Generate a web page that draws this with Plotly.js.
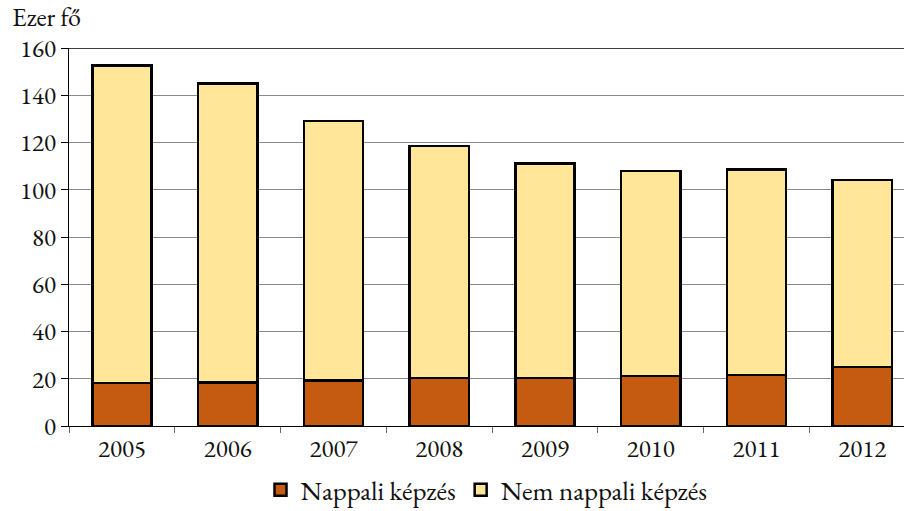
<!DOCTYPE html>
<html>
<head>
<meta charset="utf-8">
<script src="https://cdn.plot.ly/plotly-3.0.1.min.js"></script>
<style>html,body{margin:0;padding:0;background:#fff;}#chart{width:904px;height:511px;}</style>
</head>
<body>
<div id="chart"></div>
<script>
const years = ["2005","2006","2007","2008","2009","2010","2011","2012"];
const nappali = [18.1, 18.5, 19.3, 20.3, 20.4, 21.2, 21.6, 25.0];
const nemNappali = [134.6, 126.5, 109.9, 98.2, 90.8, 86.7, 87.0, 79.1];
const seriesNames = ["Nappali képzés", "Nem nappali képzés"];
const yTicks = [0, 20, 40, 60, 80, 100, 120, 140, 160];
const unitLabel = "Ezer fő";

const FONT = "'EB Garamond', Garamond, 'Liberation Serif', 'DejaVu Serif', serif";

const traces = [
  {type: "bar", x: years, y: nappali, name: seriesNames[0],
   marker: {color: "#C55A11", line: {color: "#000", width: 2.5}}},
  {type: "bar", x: years, y: nemNappali, name: seriesNames[1],
   marker: {color: "#FFE699", line: {color: "#000", width: 2.5}}}
];

const layout = {
  width: 904, height: 511,
  margin: {l: 69, r: 0, t: 48, b: 85, autoexpand: false},
  paper_bgcolor: "#fff", plot_bgcolor: "#fff",
  barmode: "stack", bargap: 0.44,
  font: {family: FONT, size: 25, color: "#111"},
  xaxis: {
    type: "category", range: [-0.5, 7.395], automargin: false,
    showline: true, linecolor: "#000", linewidth: 1,
    ticks: "outside", tickson: "boundaries", ticklen: 6, tickcolor: "#666", tickwidth: 1,
    showgrid: false, zeroline: false,
    tickfont: {family: FONT, size: 25, color: "#111"}
  },
  yaxis: {
    range: [0, 160], tickvals: yTicks, ticktext: yTicks.map(String), automargin: false,
    showline: true, linecolor: "#000", linewidth: 1,
    ticks: "outside", ticklen: 7, tickcolor: "#000",
    showgrid: true, gridcolor: "#8a8a8a", gridwidth: 1,
    zeroline: false,
    tickfont: {family: FONT, size: 25, color: "#111"}
  },
  shapes: [
    {type: "line", xref: "paper", yref: "y", x0: 0, x1: 1, y0: 160, y1: 160,
     line: {color: "#000", width: 1.5}, layer: "above"}
  ],
  annotations: [
    {text: unitLabel, xref: "paper", yref: "paper", x: -0.071, y: 1.032,
     xanchor: "left", yanchor: "bottom", showarrow: false,
     font: {family: FONT, size: 26, color: "#111"}}
  ],
  legend: {
    orientation: "h", x: 0.5, xanchor: "center", y: -0.17, yanchor: "middle",
    font: {family: FONT, size: 27, color: "#111"},
    traceorder: "normal", itemwidth: 30
  },
  showlegend: true
};

Plotly.newPlot("chart", traces, layout, {displayModeBar: false, staticPlot: true});
</script>
</body>
</html>
